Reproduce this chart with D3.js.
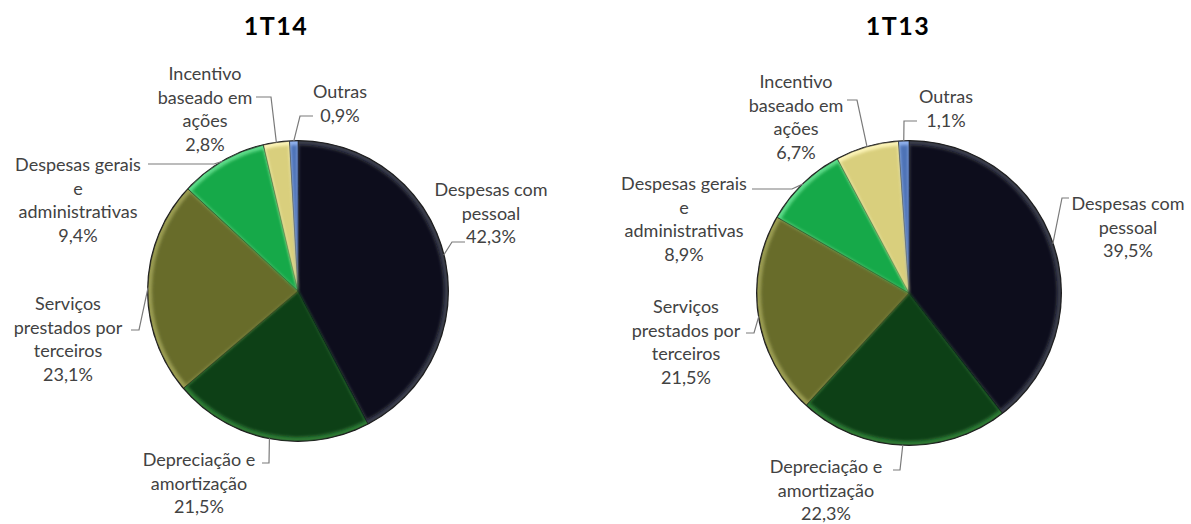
<!DOCTYPE html>
<html>
<head>
<meta charset="utf-8">
<script src="https://cdn.jsdelivr.net/npm/d3@7"></script>
<style>
  body { margin: 0; background: #fff; }
  svg { display: block; }
  .lbl { font-family: Lato, "Open Sans", sans-serif; font-size: 18px; fill: #424242; }
  .title { font-family: Lato, "Open Sans", sans-serif; font-size: 25px; font-weight: 700; fill: #000; letter-spacing: 1.5px; }
</style>
</head>
<body>
<div id="chart"></div>
<script>
// data
const titles = ["1T14", "1T13"];
const categories = ["Despesas com pessoal", "Depreciação e amortização", "Serviços prestados por terceiros",
  "Despesas gerais e administrativas", "Incentivo baseado em ações", "Outras"];
const labelLines = [["Despesas com", "pessoal"], ["Depreciação e", "amortização"], ["Serviços", "prestados por", "terceiros"],
  ["Despesas gerais", "e", "administrativas"], ["Incentivo", "baseado em", "ações"], ["Outras"]];
const values1T14 = [42.3, 21.5, 23.1, 9.4, 2.8, 0.9];
const values1T13 = [39.5, 22.3, 21.5, 8.9, 6.7, 1.1];

const colors = ["#10111c", "#0d4013", "#676c2c", "#17a94a", "#d9cf7d", "#4d72b6"];
const edgeColors = ["#3b3e4c", "#2f7a35", "#9a9c52", "#5fdc8a", "#fbf3b6", "#8fb0ec"];

const width = 1191, height = 524;
const svg = d3.select("#chart").append("svg").attr("width", width).attr("height", height);

const defs = svg.append("defs");
defs.append("filter").attr("id", "soft")
  .attr("x", "-10%").attr("y", "-10%").attr("width", "120%").attr("height", "120%")
  .append("feGaussianBlur").attr("stdDeviation", 1.6);

// layout: label centre (dx, first line dy), leader elbow and end, relative to pie centre
const charts = [
  { title: titles[0], values: values1T14, cx: 298, cy: 291, r: 150, titleX: 276,
    labels: [
      { x: 193, y: -103, ex: 154, ey: -49, tx: 167 },
      { x: -99, y: 167, ex: -29, ey: 172, tx: -36 },
      { x: -230, y: 11, ex: -159, ey: 39, tx: -167 },
      { x: -220, y: -128, ex: -84, ey: -127, tx: -150 },
      { x: -93, y: -219, ex: -27, ey: -194, tx: -42 },
      { x: 42, y: -201, ex: 2, ey: -175, tx: 15 }
    ] },
  { title: titles[1], values: values1T13, cx: 909, cy: 293, r: 152, titleX: 898,
    labels: [
      { x: 219, y: -91, ex: 153, ey: -95, tx: 160 },
      { x: -83, y: 172, ex: -9, ey: 177, tx: -16 },
      { x: -223, y: 12, ex: -155, ey: 40, tx: -163 },
      { x: -225, y: -111, ex: -117, ey: -104, tx: -157 },
      { x: -113, y: -213, ex: -52, ey: -193, tx: -62 },
      { x: 37, y: -198, ex: -5, ey: -172, tx: 8 }
    ] }
];

const fmt = v => d3.format(".1f")(v).replace(".", ",") + "%";
const lineH = 23.6;

charts.forEach(c => {
  const pie = d3.pie().sort(null).value(d => d)(c.values);
  const g = svg.append("g").attr("transform", `translate(${c.cx},${c.cy})`);

  svg.append("text").attr("class", "title")
    .attr("x", c.titleX).attr("y", 35).attr("text-anchor", "middle").text(c.title);

  // outer rim
  g.append("circle").attr("r", c.r + 1).attr("fill", "#1b1b1b");

  const outer = d3.arc().innerRadius(0).outerRadius(c.r);
  const inner = d3.arc().innerRadius(0).outerRadius(c.r - 4).padAngle(0.012).padRadius(c.r);

  g.selectAll("path.edge").data(pie).enter().append("path")
    .attr("class", "edge").attr("d", outer)
    .attr("fill", (d, i) => edgeColors[i])
    .attr("stroke", "#1e1e1e").attr("stroke-width", 0.6);

  g.selectAll("path.face").data(pie).enter().append("path")
    .attr("class", "face").attr("d", inner)
    .attr("fill", (d, i) => colors[i])
    .attr("filter", "url(#soft)");

  // leader lines
  g.selectAll("path.leader").data(pie).enter().append("path")
    .attr("class", "leader")
    .attr("d", (d, i) => {
      const a = (d.startAngle + d.endAngle) / 2;
      const p = [Math.sin(a) * c.r, -Math.cos(a) * c.r];
      const L = c.labels[i];
      return d3.line()([p, [L.ex, L.ey], [L.tx, L.ey]]);
    })
    .attr("fill", "none").attr("stroke", "#7a7a7a").attr("stroke-width", 1.2);

  // labels
  pie.forEach((d, i) => {
    const L = c.labels[i];
    const t = g.append("text").attr("class", "lbl").attr("text-anchor", "middle");
    const lines = labelLines[i].concat([fmt(c.values[i])]);
    lines.forEach((s, k) => {
      t.append("tspan").attr("x", L.x).attr("y", L.y + k * lineH + 8).text(s);
    });
  });
});
</script>
</body>
</html>
